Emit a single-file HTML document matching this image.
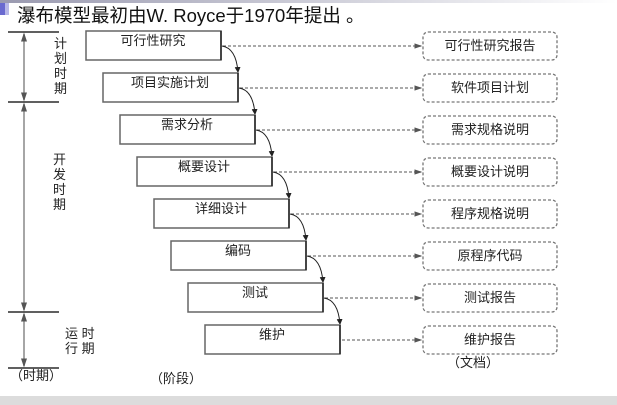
<!DOCTYPE html>
<html><head><meta charset="utf-8"><style>
body{margin:0;width:617px;height:405px;background:#fff;overflow:hidden;position:relative;font-family:"Liberation Sans","Noto Sans CJK SC",sans-serif}
</style></head><body>
<div style="position:absolute;left:0;top:0;width:617px;height:3px;background:linear-gradient(90deg,#9a9ab0,#fff)"></div>
<div style="position:absolute;left:0;top:3px;width:5px;height:12px;background:#6a6ad0"></div>
<div style="position:absolute;left:5px;top:3px;width:4px;height:12px;background:#b8b8e8"></div>
<div style="position:absolute;left:0;top:396px;width:617px;height:9px;background:#dcdcdc"></div>
<div style="position:absolute;left:17px;top:5px;font-size:18.5px;color:#111;white-space:nowrap;line-height:22px">瀑布模型最初由W. Royce于1970年提出 。</div>
<svg width="617" height="405" style="position:absolute;left:0;top:0" font-family="Liberation Sans,Noto Sans CJK SC,sans-serif">
<defs><marker id="a" markerWidth="6" markerHeight="6" refX="5" refY="3" orient="auto"><path d="M0,0 L6,3 L0,6z" fill="#222"/></marker>
<marker id="g" markerWidth="6" markerHeight="6" refX="5" refY="3" orient="auto"><path d="M0,1 L6,3 L0,5z" fill="#555"/></marker></defs>
<g stroke="#000" stroke-width="1.3"><line x1="8" y1="32" x2="59" y2="32"/><line x1="8" y1="102" x2="59" y2="102"/><line x1="8" y1="312" x2="59" y2="312"/><line x1="8" y1="368" x2="59" y2="368"/></g>
<g stroke="#888" stroke-width="1.5" marker-end="url(#g)">
<line x1="24" y1="67" x2="24" y2="34"/><line x1="24" y1="67" x2="24" y2="100"/>
<line x1="24" y1="207" x2="24" y2="104"/><line x1="24" y1="207" x2="24" y2="310"/>
<line x1="24" y1="340" x2="24" y2="314"/><line x1="24" y1="340" x2="24" y2="366"/></g>
<g font-size="13" fill="#222">
<text x="54" y="48">计</text><text x="54" y="63">划</text><text x="54" y="78">时</text><text x="54" y="93">期</text>
<text x="53" y="164">开</text><text x="53" y="179">发</text><text x="53" y="194">时</text><text x="53" y="209">期</text>
<text x="65" y="338">运 时</text><text x="65" y="353">行 期</text>
<text x="10" y="380">（时期）</text><text x="150" y="383">（阶段）</text><text x="447" y="367">（文档）</text>
</g>
<g id="s"></g>
</svg>
<script>
var st=["可行性研究","项目实施计划","需求分析","概要设计","详细设计","编码","测试","维护"];
var dc=["可行性研究报告","软件项目计划","需求规格说明","概要设计说明","程序规格说明","原程序代码","测试报告","维护报告"];
var h="";
for(var i=0;i<8;i++){var x=86+17*i,y=31+42*i,m=y+15;
h+='<rect x="'+x+'" y="'+y+'" width="135" height="29" fill="none" stroke="#666" stroke-width="1.5"/>';
h+='<line x1="'+(x+135)+'" y1="'+y+'" x2="'+(x+135)+'" y2="'+(y+29)+'" stroke="#222" stroke-width="1.5"/>';
h+='<text x="'+(x+67)+'" y="'+(y+14)+'" font-size="13" text-anchor="middle" fill="#222">'+st[i]+'</text>';
h+='<rect x="423" y="'+(y+1)+'" width="134" height="28" rx="5" fill="none" stroke="#777" stroke-width="1.3" stroke-dasharray="3,2"/>';
h+='<text x="490" y="'+(y+19)+'" font-size="13" text-anchor="middle" fill="#222">'+dc[i]+'</text>';
h+='<line x1="'+(x+137)+'" y1="'+m+'" x2="421" y2="'+m+'" stroke="#777" stroke-width="1.3" stroke-dasharray="3,2" marker-end="url(#g)"/>';
if(i<7)h+='<path d="M'+(x+136)+','+m+' Q'+(x+150)+','+(m+2)+' '+(x+152)+','+(y+41)+'" fill="none" stroke="#222" stroke-width="1" marker-end="url(#a)"/>';}
document.getElementById("s").innerHTML=h;
</script>
</body></html>
